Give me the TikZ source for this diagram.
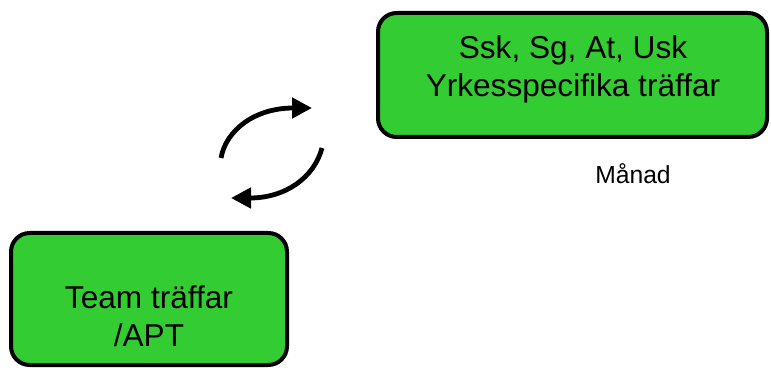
\documentclass[tikz,border=0pt]{standalone}
\usepackage{fontspec}
\setmainfont{Liberation Sans}
\usetikzlibrary{arrows.meta}
\definecolor{boxgreen}{HTML}{33CC33}
\begin{document}
\begin{tikzpicture}[x=0.75pt,y=-0.75pt,
  greenbox/.style={draw=black, line width=3pt, fill=boxgreen, rounded corners=14pt},
  boxtext/.style={font=\fontsize{23.7}{28.5}\selectfont, align=center, inner sep=0pt},
  cyclearrow/.style={line width=3.6pt, -{Triangle[length=15pt,width=15pt]}}]
\useasboundingbox (0,0) rectangle (771,370);
\draw[greenbox] (378,13) rectangle (767,137);
\node[boxtext] (top) at (573,69) {Ssk, Sg, At, Usk\\Yrkesspecifika träffar};
\draw[greenbox] (11,233) rectangle (287,365);
\node[boxtext] (bot) at (149,316) {Team träffar\\/APT};
\node[font=\fontsize{18.5}{22}\selectfont] (manad) at (633,174) {Månad};
\coordinate (a1) at (221,158);
\coordinate (a2) at (312,108);
\coordinate (b1) at (322,148);
\coordinate (b2) at (231,198);
\draw[cyclearrow] (a1) .. controls (226,130) and (255,108) .. (a2);
\draw[cyclearrow] (b1) .. controls (314,178) and (285,198) .. (b2);
\end{tikzpicture}
\end{document}
